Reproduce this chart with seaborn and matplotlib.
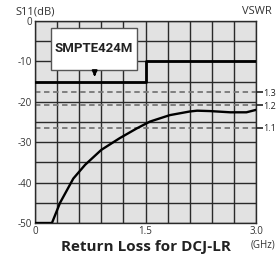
import numpy as np
import pandas as pd
import matplotlib
matplotlib.use("Agg")
import matplotlib.pyplot as plt
import seaborn as sns
from matplotlib.patches import Rectangle

# ---- data ----
freq_ghz = [0.0, 0.23, 0.34, 0.52, 0.68, 0.90, 1.15, 1.38, 1.56, 1.83, 2.10, 2.20, 2.38, 2.65, 2.87, 3.0]
return_loss_db = [-50.0, -50.0, -45.0, -39.0, -35.6, -31.9, -29.0, -26.6, -24.9, -23.3, -22.4, -22.2, -22.3, -22.6, -22.6, -22.0]
spec_freq = [0.0, 1.5, 1.5, 3.0]
spec_db = [-15.0, -15.0, -10.0, -10.0]
vswr_levels = [1.3, 1.2, 1.1]
vswr_labels = ["1.3", "1.2", "1.1"]
x_tick_labels = ["0", "1.5", "3.0"]
y_tick_labels = ["0", "-10", "-20", "-30", "-40", "-50"]
spec_name = "SMPTE424M"

vswr_db = [20 * np.log10((s - 1) / (s + 1)) for s in vswr_levels]

sns.set_style("white")
plt.rcParams["font.family"] = ["Open Sans", "DejaVu Sans"]

fig = plt.figure(figsize=(2.78, 2.58), dpi=100)
ax = fig.add_axes([35 / 278, 1 - 223 / 258, 221 / 278, 202 / 258])
ax.set_facecolor("#e2e2e2")

ax.set_xlim(0, 3.0)
ax.set_ylim(-50, 0)
xt = np.round(np.arange(0, 3.01, 0.3), 2)
ax.set_xticks(xt)
ax.set_xticklabels([x_tick_labels[[0, 1.5, 3.0].index(v)] if v in (0, 1.5, 3.0) else "" for v in xt])
yt = np.arange(-50, 0.1, 5)
ax.set_yticks(yt)
ax.set_yticklabels([str(int(v)) if int(v) % 10 == 0 else "" for v in yt])
ax.tick_params(axis="both", length=0, labelsize=7, colors="#333333", pad=2)
ax.tick_params(axis="x", pad=2)
ax.grid(True, color="#2a2a2a", linewidth=1.0)
ax.set_axisbelow(True)
for sp in ax.spines.values():
    sp.set_color("#2a2a2a")
    sp.set_linewidth(1.0)

for y in vswr_db:
    ax.axhline(y, color="#777777", linestyle=(0, (3, 2)), linewidth=1.3, zorder=2)

df_curve = pd.DataFrame({"f": freq_ghz, "rl": return_loss_db})
df_spec = pd.DataFrame({"f": spec_freq, "rl": spec_db})
sns.lineplot(data=df_spec, x="f", y="rl", sort=False, estimator=None, color="black", linewidth=2.0, ax=ax, zorder=3)
sns.lineplot(data=df_curve, x="f", y="rl", sort=False, estimator=None, color="black", linewidth=1.7, ax=ax, zorder=4)
ax.set_xlabel("")
ax.set_ylabel("")

# right VSWR axis
ax2 = ax.twinx()
ax2.set_ylim(-50, 0)
ax2.set_yticks(vswr_db)
ax2.set_yticklabels(vswr_labels)
ax2.tick_params(axis="y", length=5, width=1.2, labelsize=6.5, colors="#222222", pad=0.5)
for sp in ax2.spines.values():
    sp.set_visible(False)

# annotation box
ax.add_patch(Rectangle((0.217, -12.1), 1.163, 10.3, facecolor="white", edgecolor="#555555", linewidth=1.0, zorder=5))
ax.text(0.80, -6.9, spec_name, ha="center", va="center", fontsize=9.5, fontweight="bold",
        family=["Roboto", "DejaVu Sans"], color="#222222", zorder=6)
ax.annotate("", xy=(0.81, -14.4), xytext=(0.81, -12.4),
            arrowprops=dict(arrowstyle="-|>", color="black", lw=1.5, mutation_scale=7), zorder=6)

fig.text(15 / 278, 1 - 12 / 258, "S11(dB)", fontsize=8, color="#333333", va="center", ha="left")
fig.text(272 / 278, 1 - 12 / 258, "VSWR", fontsize=8, color="#333333", va="center", ha="right")
fig.text(146 / 278, 1 - 247 / 258, "Return Loss for DCJ-LR", fontsize=11, fontweight="bold", color="#222222", ha="center", va="center")
fig.text(263 / 278, 1 - 245 / 258, "(GHz)", fontsize=7, color="#333333", ha="center", va="center")

fig.savefig("out.png", dpi=100)
